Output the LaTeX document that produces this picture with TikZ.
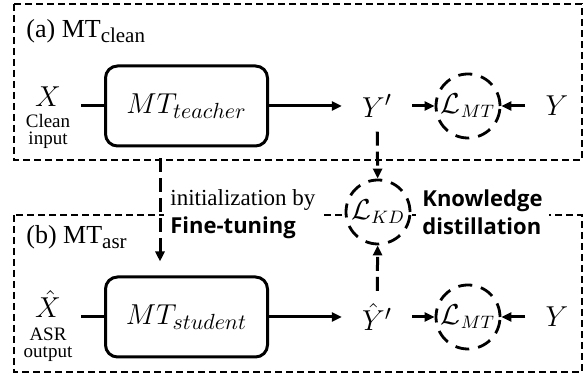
\documentclass[tikz,border=0pt]{standalone}
\usepackage{fontspec}
\setmainfont{Liberation Serif}
\newfontfamily\headsans{Open Sans}
\usetikzlibrary{arrows.meta, positioning, calc}
\newcommand{\lowsub}[1]{\raisebox{-2.5pt}{\fontsize{10.5}{12}\selectfont #1}}
\tikzset{
    model/.style={rectangle, draw, line width=1.5pt, rounded corners=6pt, minimum width=81pt, minimum height=40pt, font=\fontsize{15.5}{18}\selectfont},
    var/.style={inner xsep=10pt, inner ysep=2pt, font=\fontsize{15}{18}\selectfont},
    note/.style={align=center, inner sep=0pt, font=\fontsize{9.5}{8.5}\selectfont},
    loss/.style={circle, draw, fill=white, line width=1.4pt, dash pattern=on 7pt off 4.5pt, minimum size=32pt, inner sep=0pt, font=\fontsize{13.5}{16}\selectfont},
    groupbox/.style={draw, line width=0.8pt, dash pattern=on 3.5pt off 2pt},
    boxtitle/.style={anchor=base west, inner sep=0pt, font=\fontsize{13}{15}\selectfont},
    sidetext/.style={anchor=west, fill=white, inner sep=3pt, align=left},
    arrow/.style={-{Triangle[length=5pt, width=4.5pt]}, line width=1.5pt},
    dashedarrow/.style={arrow, dash pattern=on 7pt off 3pt},
    link/.style={line width=1.5pt},
}
\begin{document}
\begin{tikzpicture}[x=0.5pt, y=-0.5pt]
    \useasboundingbox (0,0) rectangle (584,378);
    % the two frames
    \draw[groupbox] (14,4) rectangle (582,160);
    \draw[groupbox] (14,215) rectangle (582,372);
    \node[boxtitle] (ta) at (26,38) {(a) MT\lowsub{clean}};
    \node[boxtitle] (tb) at (26,244) {(b) MT\lowsub{asr}};

    % clean branch
    \node[model] (teacher) at (186.5,106) {$MT_{teacher}$};
    \node[var, anchor=base] (x) at (48,107) {$X$};
    \node[note, below=1.5pt of x] (xnote) {Clean\\input};
    \node[var] (yt) at (377,106) {$Y'$};
    \node[loss] (lmta) at (468,106) {$\mathcal{L}_{MT}$};
    \node[var] (ya) at (557,106) {$Y$};

    % asr branch
    \node[model] (student) at (186.5,317) {$MT_{student}$};
    \node[var, anchor=base] (xh) at (48,318) {$\hat{X}$};
    \node[note, below=2.5pt of xh] (xhnote) {ASR\\output};
    \node[var] (yh) at (377,317) {$\hat{Y}'$};
    \node[loss] (lmtb) at (468,317) {$\mathcal{L}_{MT}$};
    \node[var] (yb) at (557,317) {$Y$};

    % distillation loss and side texts
    \node[loss] (lkd) at (378,212) {$\mathcal{L}_{KD}$};
    \node[sidetext, font=\fontsize{11.5}{14}\selectfont] (ft) at (164,214.5) {initialization by\\{\headsans\bfseries\fontsize{11}{14}\selectfont Fine-tuning}};
    \node[sidetext, font=\headsans\bfseries\fontsize{11}{14}\selectfont] (kd) at (416,212) {Knowledge\\distillation};

    \draw[link] (x.east |- teacher.west) -- (teacher.west);
    \draw[arrow] (teacher.east) -- (yt.west);
    \draw[arrow] (yt.east) -- (lmta.west);
    \draw[arrow] (ya.west) -- (lmta.east);

    \draw[link] (xh.east |- student.west) -- (student.west);
    \draw[arrow] (student.east) -- (yh.west);
    \draw[arrow] (yh.east) -- (lmtb.west);
    \draw[arrow] (yb.west) -- (lmtb.east);

    \draw[dashedarrow, shorten <=5pt] (yt) -- (lkd);
    \draw[dashedarrow, shorten <=4pt] (yh) -- (lkd);
    \draw[dashedarrow] ($(teacher.south)+(-26.5,11)$) -- ($(student.north)+(-26.5,-14)$);
\end{tikzpicture}
\end{document}
